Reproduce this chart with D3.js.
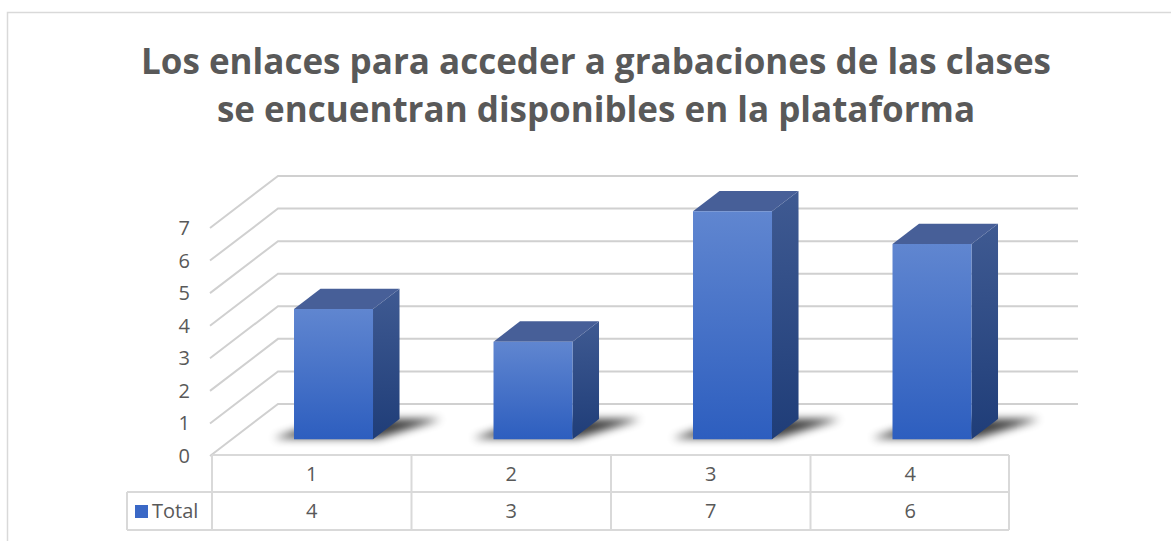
<!DOCTYPE html>
<head>
<meta charset="utf-8">
<script src="https://d3js.org/d3.v7.min.js"></script>
<style>
body { margin:0; background:#fff; }
text { font-family: "Open Sans", "DejaVu Sans", sans-serif; fill:#595959; }
</style>
</head>
<body>
<div id="chart"></div>
<script>
// data
var titleLines = ["Los enlaces para acceder a grabaciones de las clases",
                  "se encuentran disponibles en la plataforma"];
var categories = ["1", "2", "3", "4"];
var totals = [4, 3, 7, 6];
var seriesName = "Total";
var yTicks = [0, 1, 2, 3, 4, 5, 6, 7];

var W = 1171, H = 541;
var svg = d3.select("#chart").append("svg").attr("width", W).attr("height", H);

// frame of the chart area (runs off the right and bottom of the picture)
svg.append("rect").attr("x", 7.5).attr("y", 12.5).attr("width", 1200).attr("height", 600)
  .attr("fill", "none").attr("stroke", "#d9d9d9").attr("stroke-width", 1.5);

// title
var title = svg.append("g");
titleLines.forEach(function(t, i) {
  title.append("text").attr("x", 596).attr("y", 74 + i * 48)
    .attr("text-anchor", "middle").style("font-weight", "bold").style("font-size", "35px")
    .text(t);
});

// 3d projection: front plane + depth offset
var depthX = 68, depthY = -52;
var x = d3.scaleBand().domain(categories).range([212, 1010]);
var y = d3.scaleLinear().domain([0, 7]).range([456, 228]);
function P(px, v, d) { return [px + d * depthX, y(v) + d * depthY]; }

var defs = svg.append("defs");
var gFront = defs.append("linearGradient").attr("id", "front").attr("x1", 0).attr("y1", 0).attr("x2", 0).attr("y2", 1);
gFront.append("stop").attr("offset", 0).attr("stop-color", "#6086d0");
gFront.append("stop").attr("offset", 1).attr("stop-color", "#2d5ebf");
var gSide = defs.append("linearGradient").attr("id", "side").attr("x1", 0).attr("y1", 0).attr("x2", 0).attr("y2", 1);
gSide.append("stop").attr("offset", 0).attr("stop-color", "#3f5a92");
gSide.append("stop").attr("offset", 1).attr("stop-color", "#1f3d78");
defs.append("filter").attr("id", "blur").attr("x", "-50%").attr("y", "-200%").attr("width", "200%").attr("height", "500%")
  .append("feGaussianBlur").attr("stdDeviation", 4);

// gridlines: side wall diagonals + back wall lines
var grid = svg.append("g").attr("stroke", "#d0d0d0").attr("stroke-width", 2).attr("fill", "none");
yTicks.forEach(function(v) {
  var a = P(210, v, 0), b = P(210, v, 1), c = P(1010, v, 1);
  grid.append("path").attr("d", "M" + a + "L" + b + "L" + c);
});

// y tick labels
svg.append("g").selectAll("text").data(yTicks).join("text")
  .attr("x", 190).attr("y", function(d) { return y(d); }).attr("dy", "0.35em")
  .attr("text-anchor", "end").style("font-size", "20px").text(function(d) { return d; });

// bars
var d0 = 0.32, d1 = 0.71, barW = 79;
var bars = svg.append("g");
categories.forEach(function(c, i) {
  var v = totals[i];
  var left = x(c) + (x.bandwidth() - barW) / 2, right = left + barW;
  var g = bars.append("g");
  // shadow on the floor
  var s = [P(left - 22, 0, d0 + 0.02), P(right + 4, 0, d0 + 0.02), P(right + 42, 0, d1), P(left + 10, 0, d1)];
  g.append("path").attr("d", "M" + s.join("L") + "Z").attr("fill", "#000").attr("opacity", 0.75)
    .attr("filter", "url(#blur)");
  var fl = P(left, 0, d0), ft = P(left, v, d0), fr = P(right, v, d0), fb = P(right, 0, d0);
  var bt = P(right, v, d1), bb = P(right, 0, d1), bl = P(left, v, d1);
  g.append("path").attr("d", "M" + [fb, fr, bt, bb].join("L") + "Z").attr("fill", "url(#side)");
  g.append("path").attr("d", "M" + [ft, fr, bt, bl].join("L") + "Z").attr("fill", "#475f98");
  g.append("path").attr("d", "M" + [fl, ft, fr, fb].join("L") + "Z").attr("fill", "url(#front)");
});

// data table
var tbl = svg.append("g");
var rowTop = 455, rowMid = 492, rowBot = 530;
var ln = tbl.append("g").attr("stroke", "#d9d9d9").attr("stroke-width", 2);
ln.append("line").attr("x1", 212).attr("x2", 1009).attr("y1", rowTop).attr("y2", rowTop);
ln.append("line").attr("x1", 127).attr("x2", 1009).attr("y1", rowMid).attr("y2", rowMid);
ln.append("line").attr("x1", 127).attr("x2", 1009).attr("y1", rowBot).attr("y2", rowBot);
ln.append("line").attr("x1", 127).attr("x2", 127).attr("y1", rowMid).attr("y2", rowBot);
categories.concat(["end"]).forEach(function(c, i) {
  var px = i < categories.length ? x(c) : x.range()[1] - 1;
  ln.append("line").attr("x1", px).attr("x2", px).attr("y1", rowTop).attr("y2", rowBot);
});
tbl.selectAll("text.cat").data(categories).join("text").attr("class", "cat")
  .attr("x", function(d) { return x(d) + x.bandwidth() / 2; }).attr("y", 474).attr("dy", "0.35em")
  .attr("text-anchor", "middle").style("font-size", "20px").text(function(d) { return d; });
tbl.selectAll("text.val").data(totals).join("text").attr("class", "val")
  .attr("x", function(d, i) { return x(categories[i]) + x.bandwidth() / 2; }).attr("y", 511).attr("dy", "0.35em")
  .attr("text-anchor", "middle").style("font-size", "20px").text(function(d) { return d; });

// legend key inside the table
tbl.append("rect").attr("x", 135).attr("y", 505).attr("width", 13).attr("height", 13).attr("fill", "#3a68c6");
tbl.append("text").attr("x", 152).attr("y", 511).attr("dy", "0.35em").style("font-size", "20px").text(seriesName);
</script>
</body>
</html>
